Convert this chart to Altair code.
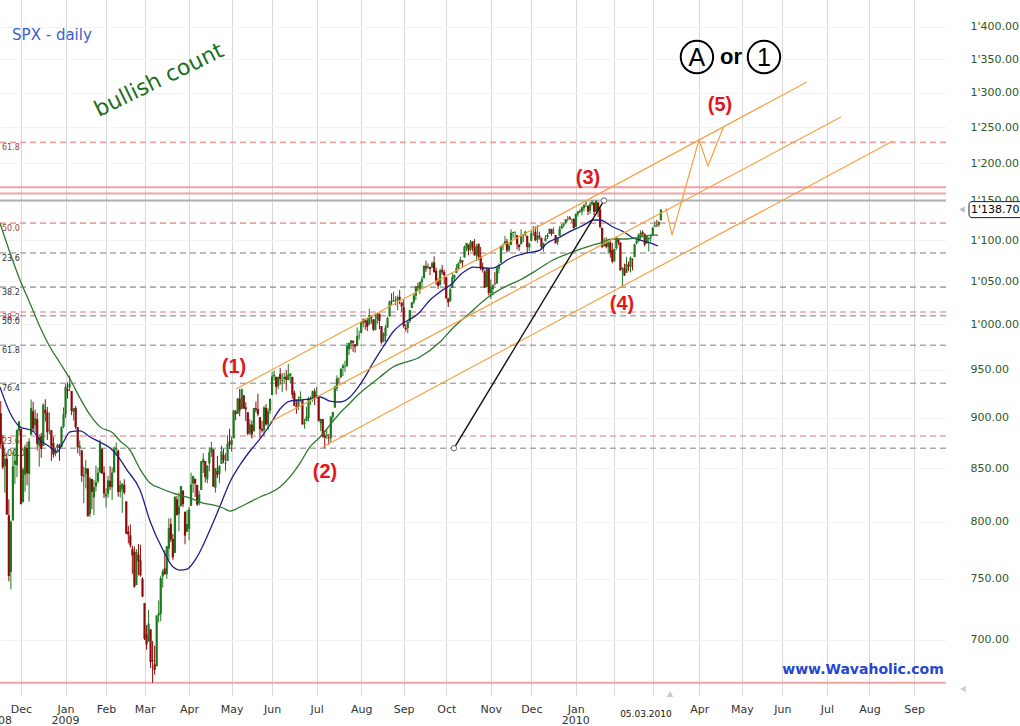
import altair as alt
import pandas as pd

# ---------------- data ----------------
# SPX daily candles, 14 Nov 2008 ... 05 Mar 2010 (one entry per trading day)
OPEN = [
    904.4, 873.2, 852.3, 859.0, 805.9, 755.8, 801.2, 853.4, 852.9, 886.9,
    888.6, 817.9, 843.6, 869.8, 844.4, 882.7, 906.5, 892.2, 898.4, 871.8, 881.1, 871.5, 908.2, 905.0, 887.0, 887.2, 874.3, 863.9, 869.5, 872.4, 870.6, 890.6,
    903.0, 929.2, 931.2, 927.5, 905.7, 909.9, 890.4, 869.8, 867.3, 842.0, 844.5, 849.6, 806.8, 839.7, 822.2, 832.5, 837.3, 845.7, 868.9, 845.7,
    823.1, 825.7, 837.8, 831.8, 846.1, 868.2, 866.9, 827.4, 829.9, 834.0, 818.6, 791.1, 787.9, 775.9, 773.3, 744.7, 770.6, 765.8, 749.9,
    729.6, 704.4, 698.6, 708.3, 684.0, 680.8, 679.3, 719.6, 720.9, 752.0, 758.8, 753.9, 776.0, 797.9, 784.6, 772.3, 820.6, 806.8, 814.1, 828.7, 809.1, 790.9,
    793.6, 814.5, 835.1, 839.8, 834.1, 816.8, 829.3, 855.3, 856.9, 839.4, 854.5, 865.2, 868.3, 831.3, 847.3, 844.6, 853.9, 862.8, 854.5, 856.9, 876.0,
    872.7, 879.2, 906.1, 903.9, 919.6, 909.0, 923.0, 910.5, 905.4, 884.2, 892.8, 886.1, 909.7, 908.6, 900.4, 888.7, 887.0, 910.0, 893.0, 907.0,
    923.3, 942.9, 942.5, 932.5, 945.7, 938.1, 940.4, 942.7, 939.0, 943.4, 942.5, 925.6, 911.9, 910.9, 920.0, 918.1, 893.5, 896.3, 899.5, 918.8, 919.9, 927.2,
    920.8, 921.2, 894.3, 898.6, 881.9, 881.3, 880.0, 879.6, 900.8, 910.2, 930.2, 940.6, 942.1, 952.0, 953.4, 954.1, 972.2, 978.6, 981.5, 977.7, 976.0, 986.8,
    990.2, 1001.4, 1005.4, 1004.1, 999.8, 1008.9, 1005.8, 994.0, 1005.9, 1012.2, 998.2, 980.6, 986.9, 996.4, 1009.1, 1026.6, 1026.6, 1027.4, 1027.8, 1031.6, 1025.2,
    1019.5, 996.1, 996.1, 1003.8, 1018.7, 1025.4, 1033.0, 1043.9, 1040.2, 1049.0, 1054.0, 1067.9, 1066.6, 1067.1, 1066.4, 1072.7, 1062.6, 1049.5, 1045.4, 1063.7, 1061.0,
    1054.9, 1029.7, 1026.9, 1042.0, 1053.7, 1060.0, 1065.3, 1071.6, 1075.0, 1078.7, 1090.4, 1094.7, 1088.2, 1098.6, 1091.9, 1081.0, 1095.6, 1080.4, 1067.5, 1061.5, 1043.2, 1065.4,
    1036.2, 1040.9, 1047.1, 1047.3, 1065.0, 1072.3, 1092.2, 1096.0, 1098.3, 1087.6, 1094.1, 1109.2, 1109.4, 1106.4, 1094.7, 1094.9, 1105.8, 1106.5, 1105.5, 1091.1,
    1098.9, 1109.0, 1110.6, 1100.4, 1105.5, 1103.0, 1091.1, 1098.7, 1104.0, 1107.8, 1114.1, 1108.6, 1106.4, 1097.9, 1105.3, 1114.5, 1118.8, 1121.1, 1127.5, 1128.6, 1125.5, 1126.6,
    1116.6, 1132.7, 1135.7, 1136.3, 1140.5, 1146.0, 1143.8, 1137.3, 1145.7, 1147.7, 1136.0, 1148.0, 1138.7, 1115.5, 1092.4, 1095.8, 1091.9, 1096.9, 1087.6,
    1073.9, 1090.1, 1100.7, 1097.3, 1064.1, 1065.5, 1060.1, 1069.7, 1067.1, 1076.0, 1079.1, 1096.1, 1099.0, 1105.5, 1110.0, 1107.5, 1095.9, 1101.2, 1103.1,
    1105.4, 1117.0, 1119.4, 1119.1, 1125.1,
]
HIGH = [
    916.9, 882.3, 865.9, 864.6, 820.5, 801.2, 865.6, 868.9, 887.7, 896.3,
    888.6, 850.5, 873.1, 875.6, 879.4, 918.6, 916.3, 908.3, 904.6, 883.2, 884.6, 914.7, 918.9, 911.0, 905.5, 887.4, 880.4, 869.8, 873.7, 873.7, 891.1, 910.3,
    934.7, 936.6, 943.9, 927.5, 910.0, 911.9, 890.4, 877.0, 867.3, 851.6, 858.1, 849.6, 841.7, 839.7, 838.6, 852.5, 850.5, 877.9, 868.9, 851.7,
    830.8, 842.6, 851.9, 850.6, 870.8, 875.0, 868.1, 838.2, 835.5, 839.4, 818.6, 796.2, 797.6, 778.7, 777.9, 775.5, 780.1, 779.4, 751.3,
    729.6, 711.7, 724.1, 708.3, 699.1, 695.3, 719.6, 731.9, 752.6, 758.3, 774.5, 778.1, 803.0, 803.2, 788.9, 823.4, 823.7, 826.8, 833.0, 828.7, 809.1, 810.5,
    813.6, 845.6, 842.5, 839.8, 834.1, 828.4, 856.9, 864.3, 856.9, 852.9, 870.4, 875.6, 868.3, 850.1, 861.8, 852.9, 871.8, 868.8, 864.5, 882.1, 888.7,
    880.5, 907.9, 907.7, 920.3, 929.6, 930.2, 923.0, 915.6, 905.4, 898.4, 897.0, 910.0, 916.4, 924.6, 900.4, 896.7, 911.8, 913.8, 909.5, 920.0,
    947.8, 949.4, 942.5, 942.5, 951.7, 946.3, 946.9, 949.8, 956.2, 946.3, 942.5, 928.0, 918.4, 921.9, 927.1, 918.1, 898.7, 910.9, 921.4, 922.0, 928.0, 930.0,
    931.9, 921.2, 898.7, 898.6, 886.8, 887.9, 883.6, 901.1, 905.8, 933.0, 944.0, 941.9, 951.6, 956.5, 959.8, 979.4, 979.8, 982.5, 982.2, 977.8, 996.7, 993.2,
    1003.6, 1007.1, 1006.6, 1008.0, 1018.0, 1010.1, 1005.8, 1012.8, 1013.1, 1012.6, 998.2, 991.2, 999.6, 1008.9, 1027.6, 1035.8, 1037.8, 1032.5, 1033.3, 1039.5, 1025.2,
    1028.4, 1000.3, 1003.4, 1016.5, 1025.4, 1036.3, 1044.1, 1048.2, 1049.7, 1056.0, 1068.8, 1074.8, 1071.5, 1067.3, 1073.8, 1080.2, 1066.3, 1053.5, 1065.1, 1069.6, 1063.4,
    1054.9, 1030.6, 1042.6, 1060.6, 1058.0, 1070.7, 1073.0, 1079.5, 1075.3, 1093.2, 1096.6, 1094.7, 1100.2, 1098.6, 1101.4, 1095.2, 1095.8, 1091.8, 1072.5, 1063.3, 1066.8, 1065.4,
    1052.2, 1046.4, 1061.0, 1066.7, 1071.5, 1093.2, 1096.1, 1105.4, 1101.7, 1097.0, 1113.7, 1110.5, 1111.1, 1106.4, 1094.7, 1113.7, 1107.6, 1111.8, 1105.5, 1097.2,
    1112.3, 1117.7, 1117.3, 1119.1, 1110.7, 1103.0, 1097.0, 1106.3, 1108.5, 1114.8, 1114.1, 1116.2, 1106.4, 1103.7, 1117.7, 1120.3, 1121.6, 1126.5, 1130.4, 1130.4, 1126.4, 1127.6,
    1133.9, 1136.6, 1139.2, 1142.5, 1145.4, 1149.7, 1143.8, 1148.4, 1150.4, 1147.8, 1150.5, 1148.0, 1141.6, 1115.5, 1103.0, 1103.7, 1099.5, 1100.2, 1096.5,
    1089.4, 1104.7, 1102.7, 1097.3, 1067.1, 1071.2, 1079.3, 1073.7, 1080.0, 1077.8, 1095.7, 1101.0, 1108.2, 1112.4, 1112.3, 1108.6, 1106.4, 1103.5, 1107.2,
    1116.1, 1123.5, 1125.6, 1123.7, 1139.4,
]
LOW = [
    869.9, 849.0, 826.8, 806.2, 747.8, 741.0, 801.2, 835.0, 841.4, 881.2,
    815.7, 817.9, 827.6, 833.6, 818.4, 882.7, 885.4, 885.5, 867.1, 851.4, 860.0, 871.5, 895.9, 877.4, 883.0, 857.1, 860.1, 861.4, 866.5, 857.1, 870.6, 889.4,
    899.4, 919.5, 927.3, 902.4, 896.8, 888.3, 864.3, 862.0, 836.9, 817.0, 830.7, 804.5, 804.3, 811.3, 806.1, 827.7, 835.4, 845.7, 844.2, 821.7,
    812.9, 822.0, 829.2, 819.9, 845.4, 861.7, 823.0, 822.1, 808.1, 825.2, 789.2, 780.7, 777.0, 754.3, 742.4, 744.7, 752.9, 751.8, 734.5,
    699.7, 692.3, 698.6, 677.9, 666.8, 672.9, 679.3, 713.9, 714.8, 742.5, 753.4, 749.9, 765.6, 781.8, 766.2, 772.3, 805.5, 791.4, 814.1, 813.4, 779.8, 790.9,
    783.3, 814.5, 826.7, 822.8, 814.5, 814.8, 829.3, 845.4, 836.3, 835.6, 847.0, 860.9, 832.4, 826.8, 840.6, 835.6, 853.9, 854.7, 847.1, 856.9, 868.5,
    866.1, 879.2, 897.3, 903.9, 901.4, 909.0, 908.7, 896.5, 882.0, 882.5, 878.9, 886.1, 905.2, 901.4, 879.6, 884.8, 881.5, 891.9, 887.6, 903.6,
    923.3, 938.5, 923.9, 929.3, 934.1, 926.4, 936.2, 928.0, 939.0, 935.7, 919.7, 911.6, 903.8, 907.9, 915.8, 893.0, 888.9, 896.3, 896.3, 913.0, 916.2, 912.9,
    920.8, 896.4, 886.4, 879.9, 869.3, 878.5, 872.8, 875.3, 896.5, 910.2, 927.5, 934.9, 941.0, 943.2, 947.8, 953.3, 966.0, 972.3, 969.4, 968.7, 976.0, 982.9,
    990.2, 996.7, 994.3, 992.5, 999.8, 1001.0, 992.4, 993.4, 1000.8, 994.6, 978.5, 980.6, 980.6, 996.4, 1009.1, 1022.5, 1026.2, 1021.6, 1016.2, 1023.1, 1014.6,
    996.3, 992.0, 990.2, 1001.7, 1018.7, 1023.0, 1028.0, 1038.4, 1035.0, 1043.4, 1052.9, 1061.2, 1064.3, 1057.5, 1066.4, 1060.4, 1045.9, 1041.2, 1045.4, 1057.8, 1046.5,
    1029.4, 1020.0, 1025.9, 1042.0, 1050.1, 1060.0, 1063.0, 1071.6, 1066.7, 1078.7, 1086.4, 1081.5, 1086.5, 1086.2, 1080.8, 1074.3, 1075.5, 1063.3, 1060.6, 1042.2, 1043.2, 1033.4,
    1029.4, 1033.4, 1045.2, 1047.3, 1059.3, 1072.3, 1087.4, 1093.8, 1084.7, 1085.3, 1094.1, 1102.2, 1102.7, 1088.4, 1086.8, 1094.9, 1097.6, 1104.6, 1083.7, 1086.3,
    1098.9, 1105.1, 1098.7, 1096.5, 1100.8, 1088.6, 1085.9, 1098.7, 1101.3, 1107.8, 1105.4, 1108.0, 1095.9, 1093.9, 1105.3, 1114.5, 1116.0, 1121.1, 1123.5, 1126.1, 1121.9, 1114.8,
    1116.6, 1129.7, 1134.0, 1131.3, 1136.2, 1142.0, 1131.8, 1133.2, 1143.8, 1131.4, 1135.8, 1129.3, 1114.8, 1090.2, 1092.4, 1089.9, 1083.1, 1078.5, 1071.6,
    1073.9, 1088.0, 1094.0, 1062.8, 1044.5, 1056.5, 1060.1, 1062.0, 1060.6, 1063.0, 1079.1, 1094.7, 1097.5, 1100.8, 1105.4, 1092.2, 1095.9, 1086.0, 1097.6,
    1105.4, 1116.5, 1116.6, 1116.7, 1125.1,
]
CLOSE = [
    873.3, 850.8, 859.1, 806.6, 752.4, 800.0, 851.8, 857.4, 887.7, 896.2,
    816.2, 848.8, 870.7, 845.2, 876.1, 909.7, 888.7, 899.2, 873.6, 879.7, 868.6, 913.2, 904.4, 885.3, 887.9, 871.6, 863.2, 868.2, 872.8, 869.4, 890.6, 903.3,
    931.8, 927.5, 934.7, 906.7, 909.7, 890.4, 870.3, 871.8, 842.6, 843.7, 850.1, 805.2, 840.2, 827.5, 832.0, 836.6, 845.7, 874.1, 845.1, 825.9,
    825.4, 838.5, 832.2, 845.9, 868.6, 869.9, 827.2, 833.7, 835.2, 826.8, 789.2, 788.4, 778.9, 770.1, 743.3, 773.1, 764.9, 752.8, 735.1,
    700.8, 696.3, 712.9, 682.6, 683.4, 676.5, 719.6, 721.4, 750.7, 756.6, 753.9, 778.1, 794.4, 784.0, 768.5, 822.9, 806.1, 813.9, 832.9, 815.9, 787.5, 797.9,
    811.1, 834.4, 842.5, 835.5, 815.6, 825.2, 856.6, 858.7, 841.5, 852.1, 865.3, 869.6, 832.4, 850.1, 843.6, 851.9, 866.2, 857.5, 855.2, 873.6, 872.8,
    877.5, 907.2, 903.8, 919.5, 907.4, 929.2, 909.2, 908.4, 883.9, 893.1, 882.9, 909.7, 908.1, 903.5, 888.3, 887.0, 910.3, 893.1, 906.8, 919.1,
    942.9, 944.7, 931.8, 942.5, 940.1, 939.1, 942.4, 939.2, 944.9, 946.2, 923.7, 912.0, 910.7, 918.4, 921.2, 893.0, 895.1, 900.9, 920.3, 918.9, 927.2, 919.3,
    923.3, 896.4, 898.7, 881.0, 879.6, 882.7, 879.1, 901.1, 905.8, 932.7, 940.7, 940.4, 951.1, 954.6, 954.1, 976.3, 979.3, 982.2, 979.6, 975.2, 986.8, 987.5,
    1002.6, 1005.7, 1002.7, 997.1, 1010.5, 1007.1, 994.4, 1005.8, 1012.7, 1004.1, 979.7, 989.7, 996.5, 1007.4, 1026.1, 1025.6, 1028.0, 1028.1, 1031.0, 1028.9, 1020.6,
    998.0, 994.8, 1003.2, 1016.4, 1025.4, 1033.4, 1044.1, 1042.7, 1049.3, 1052.6, 1068.8, 1065.5, 1068.3, 1064.7, 1071.7, 1060.9, 1050.8, 1044.4, 1063.0, 1060.6, 1057.1,
    1029.9, 1025.2, 1040.5, 1054.7, 1057.6, 1065.5, 1071.5, 1076.2, 1073.2, 1092.0, 1096.6, 1087.7, 1097.9, 1091.1, 1081.4, 1092.9, 1079.6, 1067.0, 1063.4, 1042.6, 1066.1, 1036.2,
    1042.9, 1045.4, 1046.5, 1066.6, 1069.3, 1093.1, 1093.0, 1098.5, 1087.2, 1093.5, 1109.3, 1110.3, 1109.8, 1094.9, 1091.4, 1106.2, 1105.7, 1110.6, 1091.5, 1095.6,
    1108.9, 1109.2, 1099.9, 1106.0, 1103.3, 1091.9, 1096.0, 1102.4, 1106.4, 1114.1, 1107.9, 1109.2, 1096.1, 1102.5, 1114.1, 1118.0, 1120.6, 1126.5, 1127.8, 1126.2, 1126.4, 1115.1,
    1133.0, 1136.5, 1137.1, 1141.7, 1145.0, 1147.0, 1136.2, 1145.7, 1148.5, 1136.0, 1150.2, 1138.0, 1116.5, 1091.8, 1096.8, 1092.2, 1097.5, 1084.5, 1073.9,
    1089.2, 1103.3, 1097.3, 1063.1, 1066.2, 1056.7, 1070.5, 1068.1, 1078.5, 1075.5, 1094.9, 1099.5, 1106.8, 1109.2, 1108.0, 1094.6, 1105.2, 1102.9, 1104.5,
    1115.7, 1118.3, 1118.8, 1123.0, 1138.7,
]
FIRST_INDEX = -10  # 14 Nov 2008, in trading days counted from 1 Dec 2008

# month starts (trading-day index) and their labels
MONTH_TICKS = [0, 22, 42, 61, 83, 104, 124, 146, 168, 189, 210, 232, 252, 274, 293, 312, 335, 356, 376, 398, 419, 441]
MONTH_NAMES = ["Dec", "Jan", "Feb", "Mar", "Apr", "May", "Jun", "Jul", "Aug", "Sep", "Oct", "Nov",
               "Dec", "Jan", "", "", "Apr", "May", "Jun", "Jul", "Aug", "Sep"]
YEAR_I = [-11.4, 22, 274]
YEAR_NAMES = ["2008", "2009", "2010"]
Y_TICKS = [700, 750, 800, 850, 900, 950, 1000, 1050, 1100, 1150, 1200, 1250, 1300, 1350, 1400]

# moving averages
BLUE_I = [-10.4, -5.4, -0.5, 5.9, 9.4, 14.3, 17.8, 20.7, 24.2, 29.1, 34.1, 39.0, 44.0, 47.4, 52.3, 58.8, 63.7,
          70.1, 75.1, 78.5, 82.0, 86.9, 93.3, 98.3, 103.2, 108.1, 113.1, 118.0, 122.9, 127.9, 132.8, 137.8,
          142.7, 147.7, 152.6, 157.5, 162.5, 165.9, 169.9, 173.8, 178.8, 183.7, 197.0, 202.0, 206.9, 213.3,
          216.8, 220.2, 223.2, 230.1, 233.1, 236.5, 240.0, 243.0, 249.9, 256.3, 259.8, 262.7, 266.2, 269.6,
          272.6, 276.0, 279.5, 282.5, 285.9, 289.4, 292.3, 295.8, 299.3, 302.2, 305.7, 309.1, 314.6]
BLUE_P = [931.7, 904.7, 890.6, 886.5, 877.5, 870.6, 865.6, 874.5, 885.5, 886.5, 880.5, 875.4, 869.6, 862.6, 848.3, 829.2, 800.7,
          774.8, 760.0, 757.4, 758.3, 768.7, 792.6, 814.3, 836.8, 853.0, 866.6, 878.5, 892.5, 908.8, 917.0, 918.1,
          919.1, 921.2, 917.0, 916.0, 921.2, 929.6, 942.4, 957.3, 974.8, 991.5, 1014.2, 1028.0, 1037.4, 1048.0,
          1057.6, 1063.5, 1067.1, 1065.9, 1065.9, 1069.6, 1075.6, 1079.3, 1084.2, 1087.8, 1096.5, 1100.2, 1103.9, 1108.9,
          1112.7, 1116.5, 1121.5, 1125.4, 1125.4, 1121.5, 1116.5, 1112.7, 1107.7, 1102.8, 1100.2, 1097.8, 1092.8]
GREEN_I = [-10.4, -5.4, -0.5, 4.4, 9.4, 14.3, 19.3, 24.2, 29.1, 34.1, 39.0, 45.4, 48.9, 53.8, 58.8, 63.7, 68.6,
           75.1, 80.0, 84.9, 89.9, 94.8, 99.8, 103.2, 108.1, 113.1, 118.0, 122.9, 127.9, 132.8, 137.8, 142.7,
           147.7, 152.6, 157.5, 162.5, 167.4, 172.3, 177.3, 183.7, 197.0, 206.9, 213.3, 221.7, 230.1, 238.0,
           246.4, 254.8, 262.7, 271.1, 279.5, 285.9, 292.3, 299.3, 305.7, 312.1, 314.6]
GREEN_P = [1121.5, 1084.2, 1051.6, 1024.5, 997.1, 974.8, 957.3, 940.1, 920.2, 902.7, 890.6, 884.4, 876.5, 867.6, 849.1, 835.8, 831.1,
           826.4, 823.6, 820.8, 817.0, 815.3, 812.5, 809.7, 813.4, 818.1, 822.7, 826.4, 832.0, 841.6, 854.9, 870.6,
           880.5, 892.5, 904.7, 915.0, 925.4, 933.8, 942.4, 953.0, 963.8, 980.4, 996.0, 1013.0, 1030.4, 1042.2,
           1051.6, 1063.5, 1075.6, 1084.2, 1091.6, 1096.5, 1101.5, 1101.5, 1103.9, 1106.4, 1106.4]

# Fibonacci levels
PINK_FIB_P = [881.4, 1014.1, 1121.4, 1228.7]
PINK_FIB_T = ["23.6", "38.2", "50.0", "61.8"]
GRAY_FIB_P = [1084.1, 1043.1, 1009.9, 976.7, 935.6, 869.3]
GRAY_FIB_T = ["23.6", "38.2", "50.0", "61.8", "76.4", "100.0"]
PINK_SOLID_P = [666.79, 1159.5, 1168.0]
GRAY_SOLID_P = [1150.45]

# trend channel, trend line and projected path
CHANNEL_I1 = [106.2, 123.0, 149.1]
CHANNEL_P1 = [929.6, 895.6, 870.5]
CHANNEL_I2 = [388.1, 404.9, 430.6]
CHANNEL_P2 = [1315.6, 1264.5, 1230.6]
TREND_I = [213.8, 287.9]
TREND_P = [869.3, 1150.45]
PATH_I = [318.5, 321.5, 334.8, 339.3, 346.7]
PATH_P = [1140.7, 1106.4, 1232.0, 1196.3, 1248.9]

# wave labels
WAVE_T = ["(1)", "(2)", "(3)", "(4)", "(5)"]
WAVE_I = [105.2, 150.1, 280.0, 296.8, 345.2]
WAVE_P = [953.0, 846.3, 1180.2, 1023.4, 1281.8]

# ---------------- styling ----------------
FONT = "DejaVu Sans"
UP, DOWN = "#1d7a1d", "#8e0b0b"
PINK, GRAYL, ORANGE = "#eba3a3", "#a9a9a9", "#f5a040"
W, H = 946, 695
X_MIN, X_MAX = -10.37, 456.8
Y_MIN, Y_MAX = 657.6, 1443.4

xs = alt.Scale(domain=[X_MIN, X_MAX], nice=False, zero=False)
ys = alt.Scale(type="log", domain=[Y_MIN, Y_MAX], nice=False, zero=False)

month_expr = ("[" + ",".join(f"'{m}'" for m in MONTH_NAMES) + "][indexof(["
              + ",".join(str(t) for t in MONTH_TICKS) + "], datum.value)]")
x_axis = alt.Axis(values=MONTH_TICKS, labelExpr=month_expr, grid=True, gridColor="#d8d8d8", gridWidth=1,
                  domain=False, ticks=False, labelPadding=8, labelFont=FONT, labelFontSize=11,
                  labelColor="#333333", labelAngle=0, labelOverlap=False, labelBound=False, labelFlush=False,
                  title=None)
y_axis = alt.Axis(orient="right", values=Y_TICKS, labelExpr="replace(format(datum.value, ',.2f'), ',', \"'\")",
                  grid=True, gridColor="#f3f3f3", domain=False, ticks=False, labelPadding=24, labelAlign="left",
                  labelBaseline="middle", labelFont=FONT, labelFontSize=11, labelColor="#2d5a27",
                  labelOverlap=False, labelFlush=False, title=None)


def X(f):
    return alt.X(f + ":Q", scale=xs, axis=x_axis)


def Y(f):
    return alt.Y(f + ":Q", scale=ys, axis=y_axis)


n = len(CLOSE)
candles = pd.DataFrame({"i": list(range(FIRST_INDEX, FIRST_INDEX + n)),
                        "o": OPEN, "h": HIGH, "l": LOW, "c": CLOSE})
candles["d"] = ["up" if c >= o else "down" for o, c in zip(OPEN, CLOSE)]
col = alt.Color("d:N", scale=alt.Scale(domain=["up", "down"], range=[UP, DOWN]), legend=None)

pink_fib = pd.DataFrame({"p": PINK_FIB_P, "t": PINK_FIB_T})
gray_fib = pd.DataFrame({"p": GRAY_FIB_P, "t": GRAY_FIB_T})

layers = []
layers.append(alt.Chart(pink_fib).mark_rule(color=PINK, strokeWidth=1.6, strokeDash=[6, 4]).encode(y=Y("p")))
layers.append(alt.Chart(gray_fib).mark_rule(color=GRAYL, strokeWidth=1.6, strokeDash=[6, 4]).encode(y=Y("p")))
layers.append(alt.Chart(pd.DataFrame({"p": PINK_SOLID_P})).mark_rule(color="#f0a3a3", strokeWidth=2).encode(y=Y("p")))
layers.append(alt.Chart(pd.DataFrame({"p": GRAY_SOLID_P})).mark_rule(color="#b0b0b0", strokeWidth=2).encode(y=Y("p")))
layers.append(alt.Chart(pink_fib).mark_text(align="left", baseline="top", dy=2, font=FONT, fontSize=8,
                                            color="#a83a3a").encode(x=alt.value(2), y=Y("p"), text="t:N"))
layers.append(alt.Chart(gray_fib).mark_text(align="left", baseline="top", dy=2, font=FONT, fontSize=8,
                                            color="#333333").encode(x=alt.value(2), y=Y("p"), text="t:N"))

# candles
layers.append(alt.Chart(candles).mark_rule(strokeWidth=1, clip=True).encode(x=X("i"), y=Y("l"), y2="h", color=col))
layers.append(alt.Chart(candles).mark_rule(strokeWidth=2.2, clip=True).encode(x=X("i"), y=Y("o"), y2="c", color=col))

# moving averages
layers.append(alt.Chart(pd.DataFrame({"i": BLUE_I, "p": BLUE_P})).mark_line(
    color="#1f1f8a", strokeWidth=1.3, interpolate="monotone", clip=True).encode(x=X("i"), y=Y("p")))
layers.append(alt.Chart(pd.DataFrame({"i": GREEN_I, "p": GREEN_P})).mark_line(
    color="#2e7a2e", strokeWidth=1.3, interpolate="monotone", clip=True).encode(x=X("i"), y=Y("p")))

# channel, trend line, projection
chan = pd.DataFrame({"i": CHANNEL_I1, "p": CHANNEL_P1, "i2": CHANNEL_I2, "p2": CHANNEL_P2})
layers.append(alt.Chart(chan).mark_rule(color=ORANGE, strokeWidth=1.2).encode(x=X("i"), y=Y("p"), x2="i2", y2="p2"))
trend = pd.DataFrame({"i": [TREND_I[0]], "p": [TREND_P[0]], "i2": [TREND_I[1]], "p2": [TREND_P[1]]})
layers.append(alt.Chart(trend).mark_rule(color="#111111", strokeWidth=1.4).encode(x=X("i"), y=Y("p"), x2="i2", y2="p2"))
layers.append(alt.Chart(pd.DataFrame({"i": TREND_I, "p": TREND_P})).mark_point(
    shape="circle", size=30, fill="white", stroke="#666666", strokeWidth=1, opacity=1).encode(x=X("i"), y=Y("p")))
layers.append(alt.Chart(pd.DataFrame({"i": PATH_I, "p": PATH_P, "k": list(range(len(PATH_I)))})).mark_line(
    color=ORANGE, strokeWidth=1.2).encode(x=X("i"), y=Y("p"), order="k:Q"))

# wave labels
layers.append(alt.Chart(pd.DataFrame({"i": WAVE_I, "p": WAVE_P, "t": WAVE_T})).mark_text(
    font="Liberation Sans", fontSize=20, fontWeight="bold", color="#e3161c", baseline="middle").encode(
    x=X("i"), y=Y("p"), text="t:N"))

# "A or 1"
circ = pd.DataFrame({"i": [333.8, 366.9], "p": [1353.2, 1353.2], "t": ["A", "1"]})
layers.append(alt.Chart(circ).mark_point(shape="circle", size=1050, color="black", strokeWidth=2, opacity=1).encode(
    x=X("i"), y=Y("p")))
layers.append(alt.Chart(circ).mark_text(font="Liberation Sans", fontSize=25, color="black", baseline="middle", dy=1).encode(
    x=X("i"), y=Y("p"), text="t:N"))
layers.append(alt.Chart(pd.DataFrame({"i": [350.6], "p": [1353.2], "t": ["or"]})).mark_text(
    font="Liberation Sans", fontSize=22, fontWeight="bold", color="black", baseline="middle").encode(
    x=X("i"), y=Y("p"), text="t:N"))

# titles / watermark
layers.append(alt.Chart(pd.DataFrame({"i": [-4.4], "p": [1387.4], "t": ["SPX - daily"]})).mark_text(
    font=FONT, fontSize=15, color="#3a5fcd", align="left", baseline="middle").encode(x=X("i"), y=Y("p"), text="t:N"))
layers.append(alt.Chart(pd.DataFrame({"i": [68.1], "p": [1318.5], "t": ["bullish count"]})).mark_text(
    font=FONT, fontSize=22, color="#1b6e1b", angle=334, baseline="middle").encode(x=X("i"), y=Y("p"), text="t:N"))
layers.append(alt.Chart(pd.DataFrame({"i": [415.8], "p": [676.5], "t": ["www.Wavaholic.com"]})).mark_text(
    font=FONT, fontSize=14, fontWeight="bold", color="#2546d0", baseline="middle").encode(x=X("i"), y=Y("p"), text="t:N"))

# year labels and date marker under the axis
layers.append(alt.Chart(pd.DataFrame({"i": YEAR_I, "t": YEAR_NAMES})).mark_text(
    font=FONT, fontSize=11, color="#333333", baseline="middle").encode(x=X("i"), y=alt.value(721), text="t:N"))
layers.append(alt.Chart(pd.DataFrame({"i": [308.6], "t": ["05.03.2010"]})).mark_text(
    font=FONT, fontSize=9, color="#111111", baseline="middle").encode(x=X("i"), y=alt.value(714), text="t:N"))
layers.append(alt.Chart(pd.DataFrame({"i": [320.5]})).mark_point(
    shape="triangle-up", size=45, filled=True, color="#cccccc", opacity=1).encode(x=X("i"), y=alt.value(694)))

# last price box on the right axis
last = pd.DataFrame({"p": [CLOSE[-1]], "t": [f"{CLOSE[-1]:,.2f}".replace(",", "'")]})
layers.append(alt.Chart(last).mark_rect(fill="white", stroke="#222222", strokeWidth=1, cornerRadius=3,
                                        yOffset=-8, y2Offset=8).encode(
    x=alt.value(969), x2=alt.value(1024), y=Y("p"), y2="p"))
layers.append(alt.Chart(last).mark_text(font=FONT, fontSize=11, color="black", align="left", baseline="middle").encode(
    x=alt.value(971), y=Y("p"), text="t:N"))
layers.append(alt.Chart(last).mark_point(shape="triangle-left", size=40, filled=True, color="#bbbbbb", opacity=1).encode(
    x=alt.value(962), y=Y("p")))
layers.append(alt.Chart(pd.DataFrame({"i": [0]})).mark_point(
    shape="triangle-left", size=40, filled=True, color="#cccccc", opacity=1).encode(x=alt.value(963), y=alt.value(689)))

chart = alt.layer(*layers).properties(
    width=W, height=H,
    padding={"left": 0, "top": 0, "right": 74, "bottom": 31},
    autosize=alt.AutoSizeParams(type="none"),
    background="white",
).configure_view(strokeWidth=0)

chart.save("out.html", embed_options={"renderer": "svg", "actions": False})
